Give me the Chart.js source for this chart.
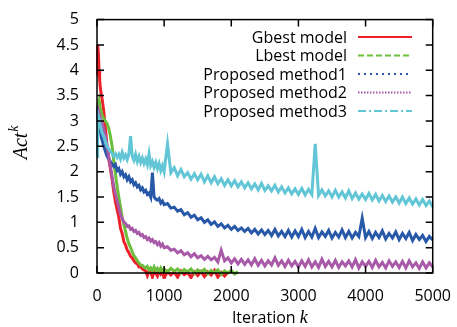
<!DOCTYPE html>
<html>
<head>
<meta charset="utf-8">
<script src="https://cdn.jsdelivr.net/npm/chart.js@4.4.1/dist/chart.umd.min.js"></script>
<style>
  html, body { margin: 0; padding: 0; background: #fff; }
  #wrap { width: 457px; height: 327px; }
</style>
</head>
<body>
<div id="wrap"><canvas id="chart"></canvas></div>
<script>
const iters = [0, 10, 20, 30, 40, 50, 60, 80, 100,
  125, 150, 175, 200, 225, 250, 275, 300, 325, 350, 375, 400, 425, 450, 475, 500,
  525, 550, 575, 600, 625, 650, 675, 700, 725, 750, 775, 800, 825, 850, 875, 900,
  925, 950, 975, 1000,
  1050, 1100, 1150, 1200, 1250, 1300, 1350, 1400, 1450, 1500, 1550, 1600, 1650, 1700,
  1750, 1800, 1850, 1900, 1950, 2000, 2050, 2100, 2150, 2200, 2250, 2300, 2350, 2400,
  2450, 2500, 2550, 2600, 2650, 2700, 2750, 2800, 2850, 2900, 2950, 3000, 3050, 3100,
  3150, 3200, 3250, 3300, 3350, 3400, 3450, 3500, 3550, 3600, 3650, 3700, 3750, 3800,
  3850, 3900, 3950, 4000, 4050, 4100, 4150, 4200, 4250, 4300, 4350, 4400, 4450, 4500,
  4550, 4600, 4650, 4700, 4750, 4800, 4850, 4900, 4950, 5000];

const gbest = [3.9, 4.5, 4.35, 4.0, 3.8, 3.65, 3.55, 3.4, 3.2,
  2.85, 2.5, 2.25, 2.05, 1.85, 1.6, 1.4, 1.25, 1.1, 0.88, 0.78, 0.62, 0.55, 0.45, 0.4, 0.33,
  0.3, 0.24, 0.2, 0.18, 0.12, 0.13, 0.08, 0.06, 0.04, -0.05, 0.05, 0.02, -0.08, 0.03, 0.0, -0.06,
  0.04, -0.02, 0.02, -0.1,
  0.03, -0.04, 0.02, -0.08, 0.04, -0.03, 0.01, -0.09, 0.02, -0.05, 0.03, -0.07, 0.02, -0.04,
  0.05, -0.08, 0.01, -0.06, 0.02];

const lbest = [3.0, 3.2, 3.35, 3.4, 3.3, 3.25, 3.2, 3.1, 3.05,
  3.0, 2.95, 2.85, 2.7, 2.5, 2.2, 1.95, 1.7, 1.5, 1.3, 1.1, 0.95, 0.82, 0.68, 0.58, 0.5,
  0.42, 0.34, 0.3, 0.24, 0.2, 0.16, 0.15, 0.12, 0.1, 0.13, 0.06, 0.1, 0.04, 0.12, 0.05, 0.09,
  0.03, 0.1, 0.04, 0.08,
  0.02, 0.09, 0.03, 0.08, 0.0, 0.07, 0.02, 0.08, -0.01, 0.06, 0.02, 0.07, -0.02, 0.05,
  0.01, 0.06, -0.03, 0.04, 0.0, 0.05, -0.02, 0.03];

const method1 = [3.0, 3.1, 3.05, 2.95, 2.85, 2.8, 2.7, 2.6, 2.5,
  2.4, 2.3, 2.25, 2.2, 2.15, 2.1, 2.14, 2.02, 2.06, 1.95, 2.0, 1.9, 1.94, 1.84, 1.9, 1.8,
  1.84, 1.74, 1.78, 1.7, 1.73, 1.64, 1.68, 1.6, 1.63, 1.55, 1.58, 1.5, 1.98, 1.5, 1.46, 1.44,
  1.47, 1.38, 1.42, 1.35,
  1.37, 1.28, 1.3, 1.22, 1.25, 1.15, 1.19, 1.1, 1.14, 1.05, 1.09, 1.0, 1.05, 0.96,
  1.01, 0.92, 0.97, 0.89, 0.94, 0.86, 0.92, 0.84, 0.89, 0.82, 0.88, 0.79, 0.86, 0.77,
  0.85, 0.76, 0.84, 0.74, 0.86, 0.73, 0.82, 0.72, 0.84, 0.71, 0.83, 0.72, 0.86, 0.7,
  0.82, 0.71, 0.88, 0.7, 0.81, 0.72, 0.84, 0.69, 0.8, 0.71, 0.85, 0.7, 0.82, 0.69,
  0.8, 0.72, 1.08, 0.7, 0.82, 0.68, 0.8, 0.7, 0.83, 0.67, 0.78, 0.69, 0.81, 0.66,
  0.78, 0.68, 0.8, 0.64, 0.76, 0.66, 0.74, 0.62, 0.72, 0.65];

const method2 = [2.9, 3.1, 3.2, 3.15, 3.1, 3.05, 3.0, 2.95, 2.85,
  2.7, 2.5, 2.3, 2.1, 1.9, 1.7, 1.55, 1.42, 1.3, 1.15, 1.08, 1.0, 0.98, 0.92, 0.93, 0.86,
  0.88, 0.82, 0.84, 0.78, 0.8, 0.74, 0.76, 0.7, 0.72, 0.66, 0.69, 0.63, 0.66, 0.6, 0.62, 0.56,
  0.6, 0.53, 0.57, 0.5,
  0.52, 0.45, 0.47, 0.4, 0.44, 0.36, 0.4, 0.32, 0.38, 0.3, 0.34, 0.27, 0.33, 0.26,
  0.31, 0.22, 0.45, 0.24, 0.3, 0.2, 0.28, 0.18, 0.27, 0.17, 0.26, 0.16, 0.28, 0.15,
  0.25, 0.14, 0.24, 0.16, 0.3, 0.15, 0.24, 0.13, 0.25, 0.14, 0.23, 0.12, 0.24, 0.13,
  0.26, 0.12, 0.22, 0.11, 0.27, 0.13, 0.23, 0.12, 0.25, 0.11, 0.22, 0.14, 0.24, 0.12,
  0.26, 0.1, 0.22, 0.13, 0.23, 0.11, 0.25, 0.12, 0.21, 0.1, 0.24, 0.13, 0.22, 0.11,
  0.23, 0.1, 0.24, 0.12, 0.2, 0.09, 0.22, 0.1, 0.2, 0.12];

const method3 = [2.3, 2.8, 3.1, 3.05, 2.95, 2.9, 2.85, 2.75, 2.7,
  2.6, 2.5, 2.45, 2.4, 2.36, 2.3, 2.35, 2.28, 2.34, 2.25, 2.38, 2.27, 2.33, 2.24, 2.35, 2.7,
  2.3, 2.22, 2.34, 2.2, 2.3, 2.18, 2.27, 2.16, 2.25, 2.14, 2.35, 2.12, 2.2, 2.08, 2.18, 2.06,
  2.16, 2.02, 2.12, 2.0,
  2.55, 1.98, 2.08, 1.92, 2.04, 1.9, 1.98, 1.85, 1.96, 1.84, 1.95, 1.8, 1.92, 1.78,
  1.9, 1.76, 1.86, 1.73, 1.84, 1.72, 1.82, 1.7, 1.8, 1.68, 1.78, 1.66, 1.76, 1.64,
  1.77, 1.63, 1.72, 1.62, 1.73, 1.6, 1.7, 1.58, 1.68, 1.56, 1.66, 1.55, 1.67, 1.54,
  1.65, 1.55, 2.55, 1.53, 1.64, 1.52, 1.62, 1.5, 1.63, 1.5, 1.6, 1.48, 1.62, 1.47,
  1.58, 1.46, 1.56, 1.45, 1.57, 1.44, 1.55, 1.42, 1.53, 1.41, 1.52, 1.4, 1.5, 1.38,
  1.5, 1.37, 1.48, 1.36, 1.46, 1.34, 1.45, 1.33, 1.42, 1.3];

const labels = ['Gbest model', 'Lbest model', 'Proposed method1', 'Proposed method2', 'Proposed method3'];
const colors = ['rgb(236,32,40)', 'rgb(108,190,60)', 'rgb(40,88,168)', 'rgb(168,90,168)', 'rgb(98,198,214)'];
const dashes = [[], [6, 3], [2, 4], [1.5, 1.5], [8, 3, 2, 3]];
const series = [gbest, lbest, method1, method2, method3];

const xTicks = [0, 1000, 2000, 3000, 4000, 5000];
const yTicks = [0, 0.5, 1, 1.5, 2, 2.5, 3, 3.5, 4, 4.5, 5];

const FONT = '"Open Sans", "DejaVu Sans", sans-serif';

function toPoints(vals) {
  return vals.map((v, i) => ({x: iters[i], y: v}));
}

// frame with inward ticks, gnuplot style legend and axis titles
const decor = {
  id: 'decor',
  afterDraw(chart) {
    const ctx = chart.ctx;
    const a = chart.chartArea;
    const xs = chart.scales.x, ys = chart.scales.y;
    ctx.save();
    ctx.strokeStyle = '#000';
    ctx.lineWidth = 1.5;
    ctx.strokeRect(a.left, a.top, a.right - a.left, a.bottom - a.top);
    ctx.beginPath();
    xTicks.forEach(t => {
      const px = xs.getPixelForValue(t);
      ctx.moveTo(px, a.bottom); ctx.lineTo(px, a.bottom - 7);
      ctx.moveTo(px, a.top); ctx.lineTo(px, a.top + 7);
    });
    yTicks.forEach(t => {
      const py = ys.getPixelForValue(t);
      ctx.moveTo(a.left, py); ctx.lineTo(a.left + 7, py);
      ctx.moveTo(a.right, py); ctx.lineTo(a.right - 7, py);
    });
    ctx.stroke();

    // legend
    ctx.font = '16px ' + FONT;
    ctx.textAlign = 'right';
    ctx.textBaseline = 'middle';
    labels.forEach((lab, i) => {
      const y = 37 + i * 18.5;
      ctx.fillStyle = '#000';
      ctx.fillText(lab, 347, y + 1);
      ctx.beginPath();
      ctx.setLineDash(dashes[i]);
      ctx.strokeStyle = colors[i];
      ctx.lineWidth = 2;
      ctx.moveTo(358, y);
      ctx.lineTo(412, y);
      ctx.stroke();
    });
    ctx.setLineDash([]);

    // x title
    ctx.fillStyle = '#000';
    ctx.textAlign = 'left';
    ctx.textBaseline = 'alphabetic';
    const t1 = 'Iteration ';
    ctx.font = 'italic 18px "Liberation Serif", serif';
    const wk = ctx.measureText('k').width;
    ctx.font = '16px ' + FONT;
    const w1 = ctx.measureText(t1).width;
    const cx = (a.left + a.right) / 2 + 5;
    const sx = cx - (w1 + wk) / 2;
    ctx.fillText(t1, sx, 323);
    ctx.font = 'italic 18px "Liberation Serif", serif';
    ctx.fillText('k', sx + w1, 323);

    // y title
    ctx.save();
    ctx.translate(27, 142);
    ctx.rotate(-Math.PI / 2);
    ctx.font = 'italic 20px "Liberation Serif", serif';
    const wa = ctx.measureText('Act').width;
    ctx.fillText('Act', -wa / 2 - 4, 0);
    ctx.font = 'italic 14px "Liberation Serif", serif';
    ctx.fillText('k', wa / 2 - 3, -9);
    ctx.restore();
    ctx.restore();
  }
};

new Chart(document.getElementById('chart'), {
  type: 'line',
  data: {
    datasets: series.map((vals, i) => ({
      label: labels[i],
      data: toPoints(vals),
      borderColor: colors[i],
      borderWidth: 3,
      pointRadius: 0,
      tension: 0,
      fill: false,
      clip: 6,
      order: 5 - i
    }))
  },
  options: {
    responsive: true,
    maintainAspectRatio: false,
    animation: false,
    layout: {padding: {left: 0, right: 23, top: 19, bottom: 0}},
    plugins: {legend: {display: false}, tooltip: {enabled: false}},
    scales: {
      x: {
        type: 'linear', min: 0, max: 5000,
        afterBuildTicks: s => { s.ticks = xTicks.map(v => ({value: v})); },
        grid: {display: false},
        border: {display: false},
        ticks: {color: '#000', font: {family: FONT, size: 16}, padding: 6, maxRotation: 0,
          callback: v => String(v)},
        afterFit: s => { s.height = 54; }
      },
      y: {
        min: 0, max: 5,
        afterBuildTicks: s => { s.ticks = yTicks.map(v => ({value: v})); },
        grid: {display: false},
        border: {display: false},
        ticks: {color: '#000', font: {family: FONT, size: 16}, padding: 10,
          callback: v => String(v)},
        afterFit: s => { s.width = 97; }
      }
    }
  },
  plugins: [decor]
});
</script>
</body>
</html>
